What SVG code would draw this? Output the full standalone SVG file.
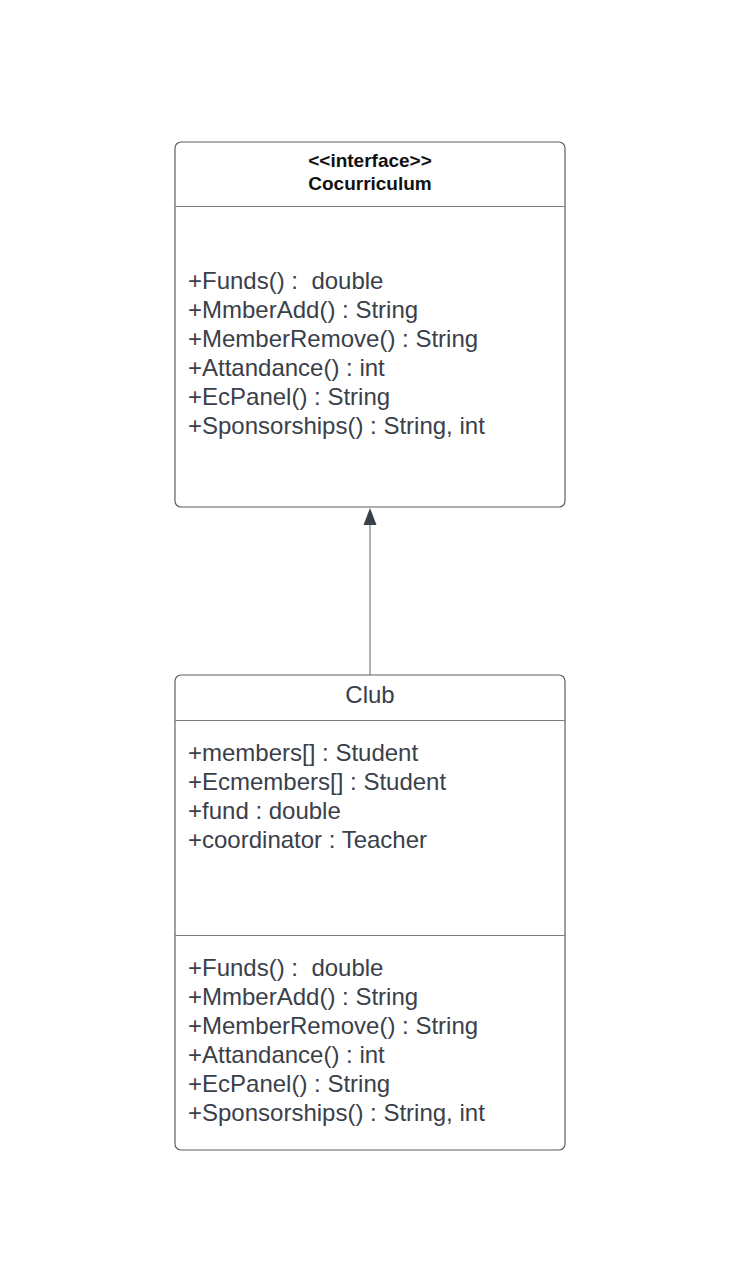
<svg xmlns="http://www.w3.org/2000/svg" width="738" height="1280" viewBox="0 0 738 1280">
<style>
.box{fill:#ffffff;stroke:#5a5f66;stroke-width:1.2}
.div{stroke:#7a7f86;stroke-width:1}
.t{font-family:"Liberation Sans",Arial,sans-serif;font-size:24px;fill:#3a404a;white-space:pre}
.h{font-family:"Liberation Sans",Arial,sans-serif;font-weight:bold;fill:#111111;text-anchor:middle}
.c{text-anchor:middle}
</style>
<rect width="738" height="1280" fill="#ffffff"/>
<g id="connectors">
<line x1="370" y1="675" x2="370" y2="522" stroke="#7a7f86" stroke-width="1.2"/>
<path d="M370,508 L363.5,525 L376.5,525 Z" fill="#3a404a"/>
</g>
<g id="cocurriculum">
<rect class="box" x="175" y="142" width="390" height="365" rx="6"/>
<line class="div" x1="175" y1="206.5" x2="565" y2="206.5"/>
<text class="h" x="370" y="167" font-size="19">&lt;&lt;interface&gt;&gt;</text>
<text class="h" x="370" y="190" font-size="19">Cocurriculum</text>
<text class="t" x="188" y="289" xml:space="preserve">+Funds() :  double</text>
<text class="t" x="188" y="318">+MmberAdd() : String</text>
<text class="t" x="188" y="347">+MemberRemove() : String</text>
<text class="t" x="188" y="376">+Attandance() : int</text>
<text class="t" x="188" y="405">+EcPanel() : String</text>
<text class="t" x="188" y="434">+Sponsorships() : String, int</text>
</g>
<g id="club">
<rect class="box" x="175" y="675" width="390" height="475" rx="6"/>
<line class="div" x1="175" y1="720.5" x2="565" y2="720.5"/>
<line class="div" x1="175" y1="935.5" x2="565" y2="935.5"/>
<text class="t c" x="370" y="703">Club</text>
<text class="t" x="188" y="761">+members[] : Student</text>
<text class="t" x="188" y="790">+Ecmembers[] : Student</text>
<text class="t" x="188" y="819">+fund : double</text>
<text class="t" x="188" y="848">+coordinator : Teacher</text>
<text class="t" x="188" y="976" xml:space="preserve">+Funds() :  double</text>
<text class="t" x="188" y="1005">+MmberAdd() : String</text>
<text class="t" x="188" y="1034">+MemberRemove() : String</text>
<text class="t" x="188" y="1063">+Attandance() : int</text>
<text class="t" x="188" y="1092">+EcPanel() : String</text>
<text class="t" x="188" y="1121">+Sponsorships() : String, int</text>
</g>
</svg>
